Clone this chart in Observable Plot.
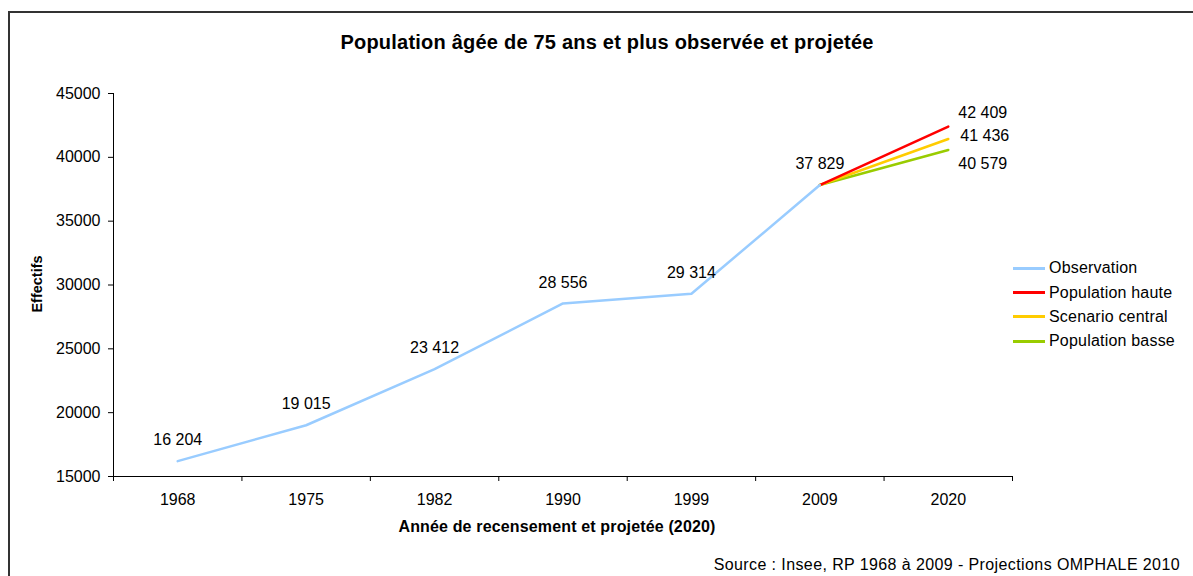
<!DOCTYPE html>
<html>
<head>
<meta charset="utf-8">
<script src="https://cdn.jsdelivr.net/npm/d3@7"></script>
<script src="https://cdn.jsdelivr.net/npm/@observablehq/plot@0.6"></script>
<style>
  html, body { margin: 0; padding: 0; background: #fff; }
  #wrap { position: relative; width: 1193px; height: 576px; overflow: hidden; font-family: "Liberation Sans", Arial, sans-serif; color: #000; }
  #frame { position: absolute; left: 8px; top: 11px; width: 1300px; height: 700px; border-left: 2px solid #333; border-top: 2px solid #333; }
  #chart { position: absolute; left: 0; top: 0; }
  .title { position: absolute; left: 607px; top: 30px; transform: translateX(-50%); font-weight: bold; font-size: 20px; line-height: 24px; white-space: nowrap; letter-spacing: 0.22px; }
  .ytitle { position: absolute; left: 37px; top: 284px; transform: translate(-50%, -50%) rotate(-90deg); font-weight: bold; font-size: 14.5px; white-space: nowrap; }
  .xtitle { position: absolute; left: 557px; top: 517px; transform: translateX(-50%); font-weight: bold; font-size: 16px; line-height: 20px; white-space: nowrap; letter-spacing: 0.15px; }
  .source { position: absolute; right: 13px; top: 555px; font-size: 16px; line-height: 20px; white-space: nowrap; letter-spacing: 0.4px; }
  .legend { position: absolute; left: 1013px; top: 256px; font-size: 16px; }
  .legend .row { display: flex; align-items: center; height: 24.4px; white-space: nowrap; }
  .legend .sw { width: 32px; height: 3px; margin-right: 4px; }
  .legend span { letter-spacing: 0.2px; }
</style>
</head>
<body>
<div id="wrap">
  <div id="frame"></div>
  <div id="chart"></div>
  <div class="title" id="title"></div>
  <div class="ytitle" id="ytitle"></div>
  <div class="xtitle" id="xtitle"></div>
  <div class="source" id="source"></div>
  <div class="legend" id="legend"></div>
</div>
<script>
// ---- Data ----
const years = ["1968", "1975", "1982", "1990", "1999", "2009", "2020"];
const observationYears = ["1968", "1975", "1982", "1990", "1999", "2009"];
const observation = [16204, 19015, 23412, 28556, 29314, 37829];
const projectionYears = ["2009", "2020"];
const populationHaute = [37829, 42409];
const scenarioCentral = [37829, 41436];
const populationBasse = [37829, 40579];
const yTicks = [15000, 20000, 25000, 30000, 35000, 40000, 45000];
const seriesNames = ["Observation", "Population haute", "Scenario central", "Population basse"];
const seriesColors = ["#99CCFF", "#FF0000", "#FFCC00", "#99CC00"];
const titleText = "Population âgée de 75 ans et plus observée et projetée";
const yLabel = "Effectifs";
const xLabel = "Année de recensement et projetée (2020)";
const sourceText = "Source : Insee, RP 1968 à 2009 - Projections OMPHALE 2010";

// ---- Build tables ----
const pos = (year) => years.indexOf(year) + 0.5;
const rows = [];
observationYears.forEach((yr, i) => rows.push({series: seriesNames[0], year: yr, value: observation[i]}));
[populationHaute, scenarioCentral, populationBasse].forEach((vals, s) => {
  projectionYears.forEach((yr, i) => rows.push({series: seriesNames[s + 1], year: yr, value: vals[i]}));
});
const fmt = (v) => d3.format(",")(v).replace(/,/g, " ");
const obsRows = rows.filter(d => d.series === seriesNames[0]);
const endRow = (name) => rows.filter(d => d.series === name && d.year === "2020");

const font = "'Liberation Sans', Arial, sans-serif";

const chart = Plot.plot({
  width: 1193,
  height: 576,
  marginLeft: 113,
  marginRight: 181,
  marginTop: 93,
  marginBottom: 100,
  style: {fontFamily: font, fontSize: "16px", color: "#000", background: "transparent", overflow: "visible"},
  x: {type: "linear", domain: [0, years.length], axis: null},
  y: {domain: [yTicks[0], yTicks[yTicks.length - 1]], axis: null},
  color: {domain: seriesNames, range: seriesColors},
  marks: [
    Plot.axisY({ticks: yTicks, tickSize: 5, tickPadding: 8, tickFormat: d => String(d), label: null, fontSize: 16}),
    Plot.axisX({ticks: d3.range(0, years.length + 1), tickSize: 5, tickFormat: () => "", label: null}),
    Plot.axisX({ticks: years.map(pos), tickSize: 0, tickPadding: 17, tickFormat: d => years[Math.round(d - 0.5)], label: null, fontSize: 16}),
    Plot.ruleY([yTicks[0]], {x1: 0, x2: years.length, stroke: "#000"}),
    Plot.ruleX([0], {y1: yTicks[0], y2: yTicks[yTicks.length - 1], stroke: "#000"}),
    Plot.line(rows.filter(d => d.series === seriesNames[3]), {x: d => pos(d.year), y: "value", stroke: "series", strokeWidth: 2.5}),
    Plot.line(rows.filter(d => d.series === seriesNames[2]), {x: d => pos(d.year), y: "value", stroke: "series", strokeWidth: 2.5}),
    Plot.line(rows.filter(d => d.series === seriesNames[1]), {x: d => pos(d.year), y: "value", stroke: "series", strokeWidth: 2.5}),
    Plot.line(obsRows, {x: d => pos(d.year), y: "value", stroke: "series", strokeWidth: 2.5}),
    Plot.text(obsRows, {x: d => pos(d.year), y: "value", text: d => fmt(d.value), dy: -21, fill: "#000", fontSize: 16}),
    Plot.text(endRow(seriesNames[1]), {x: d => pos(d.year), y: "value", text: d => fmt(d.value), dx: 10, dy: -14, textAnchor: "start", fill: "#000", fontSize: 16}),
    Plot.text(endRow(seriesNames[2]), {x: d => pos(d.year), y: "value", text: d => fmt(d.value), dx: 12, dy: -3, textAnchor: "start", fill: "#000", fontSize: 16}),
    Plot.text(endRow(seriesNames[3]), {x: d => pos(d.year), y: "value", text: d => fmt(d.value), dx: 10, dy: 14, textAnchor: "start", fill: "#000", fontSize: 16})
  ]
});
document.getElementById("chart").appendChild(chart);

document.getElementById("title").textContent = titleText;
document.getElementById("ytitle").textContent = yLabel;
document.getElementById("xtitle").textContent = xLabel;
document.getElementById("source").textContent = sourceText;
const legend = document.getElementById("legend");
seriesNames.forEach((name, i) => {
  const row = document.createElement("div");
  row.className = "row";
  const sw = document.createElement("div");
  sw.className = "sw";
  sw.style.background = seriesColors[i];
  const label = document.createElement("span");
  label.textContent = name;
  row.appendChild(sw);
  row.appendChild(label);
  legend.appendChild(row);
});
</script>
</body>
</html>
